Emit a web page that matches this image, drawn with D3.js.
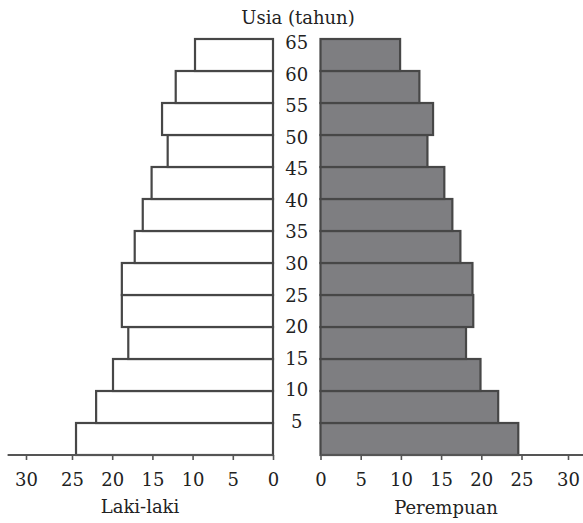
<!DOCTYPE html>
<html>
<head>
<meta charset="utf-8">
<script src="https://cdn.jsdelivr.net/npm/d3@7"></script>
<style>
  body { margin: 0; background: #fff; }
  svg text { font-family: "DejaVu Serif", serif; fill: #222; }
</style>
</head>
<body>
<svg width="583" height="523"></svg>
<script>
// age groups (lower bound of each 5-year band)
const ageGroups = [0, 5, 10, 15, 20, 25, 30, 35, 40, 45, 50, 55, 60];
const maleVals = [24.5, 22.0, 19.9, 18.0, 18.8, 18.8, 17.2, 16.2, 15.1, 13.1, 13.8, 12.1, 9.7];
const femaleVals = [24.6, 22.1, 19.9, 18.1, 19.0, 18.9, 17.4, 16.4, 15.4, 13.3, 14.0, 12.3, 9.9];
const ageLabels = [5, 10, 15, 20, 25, 30, 35, 40, 45, 50, 55, 60, 65];
const xTicks = [0, 5, 10, 15, 20, 25, 30];

const svg = d3.select('svg');
const axisY = 455;

const y = d3.scaleLinear()
  .domain([0, 65])
  .range([axisY, 39]);

// the age labels in the print are spaced a little tighter than the bars
const yLabel = d3.scaleLinear()
  .domain([5, 65])
  .range([421.5, 42.5]);

// the printed axis gets a bit wider between 25 and 30
const xLeft = d3.scaleLinear()
  .domain([0, 25, 30])
  .range([273, 72, 26]);

const xRight = d3.scaleLinear()
  .domain([0, 25, 30])
  .range([320.5, 521.5, 568]);

const males = ageGroups.map((a, i) => ({ age: a, v: maleVals[i] }));
const females = ageGroups.map((a, i) => ({ age: a, v: femaleVals[i] }));

// bars
svg.append('g')
  .selectAll('rect')
  .data(males)
  .enter()
  .append('rect')
  .attr('x', d => xLeft(d.v))
  .attr('y', d => y(d.age + 5))
  .attr('width', d => xLeft(0) - xLeft(d.v))
  .attr('height', d => y(d.age) - y(d.age + 5))
  .attr('fill', '#fff')
  .attr('stroke', '#474747')
  .attr('stroke-width', 2.2);

svg.append('g')
  .selectAll('rect')
  .data(females)
  .enter()
  .append('rect')
  .attr('x', xRight(0))
  .attr('y', d => y(d.age + 5))
  .attr('width', d => xRight(d.v) - xRight(0))
  .attr('height', d => y(d.age) - y(d.age + 5))
  .attr('fill', '#7e7e81')
  .attr('stroke', '#474747')
  .attr('stroke-width', 2.2);

// axis lines (broken in the middle)
svg.append('line')
  .attr('x1', xLeft(32)).attr('x2', xLeft(0))
  .attr('y1', axisY).attr('y2', axisY)
  .attr('stroke', '#555').attr('stroke-width', 2.2);

svg.append('line')
  .attr('x1', xRight(0)).attr('x2', xRight(33))
  .attr('y1', axisY).attr('y2', axisY)
  .attr('stroke', '#555').attr('stroke-width', 2.2);

const styleAxis = g => {
  g.select('.domain').remove();
  g.selectAll('.tick line').attr('stroke', '#555').attr('stroke-width', 1.6);
  g.selectAll('.tick text')
    .attr('font-size', 18)
    .attr('font-family', '"DejaVu Serif", serif')
    .attr('fill', '#222');
};

svg.append('g')
  .attr('transform', `translate(0, ${axisY})`)
  .call(d3.axisBottom(xLeft).tickValues(xTicks).tickSize(5).tickPadding(13))
  .call(styleAxis);

svg.append('g')
  .attr('transform', `translate(0, ${axisY})`)
  .call(d3.axisBottom(xRight).tickValues(xTicks).tickSize(5).tickPadding(13))
  .call(styleAxis);

// age labels in the centre column
const midX = (xLeft(0) + xRight(0)) / 2;
svg.append('g')
  .selectAll('text')
  .data(ageLabels)
  .enter()
  .append('text')
  .attr('x', midX)
  .attr('y', d => yLabel(d))
  .attr('dy', '0.36em')
  .attr('text-anchor', 'middle')
  .attr('font-size', 18)
  .text(d => d);

svg.append('text')
  .attr('x', 298)
  .attr('y', 24)
  .attr('text-anchor', 'middle')
  .attr('font-size', 18)
  .text('Usia (tahun)');

svg.append('text')
  .attr('x', 140)
  .attr('y', 513)
  .attr('text-anchor', 'middle')
  .attr('font-size', 18)
  .text('Laki-laki');

svg.append('text')
  .attr('x', 446)
  .attr('y', 514)
  .attr('text-anchor', 'middle')
  .attr('font-size', 18)
  .text('Perempuan');
</script>
</body>
</html>
